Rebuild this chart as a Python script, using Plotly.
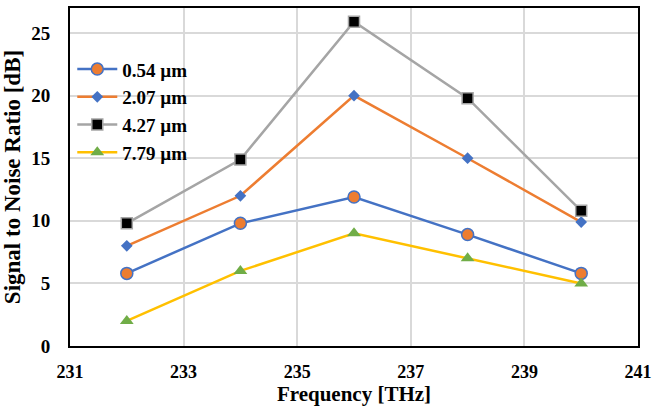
import plotly.graph_objects as go

freq = [232, 234, 236, 238, 240]
snr_054 = [5.8, 9.8, 11.9, 8.9, 5.8]
snr_207 = [8.0, 12.0, 20.0, 15.0, 9.9]
snr_427 = [9.8, 14.9, 25.9, 19.8, 10.8]
snr_779 = [2.0, 6.0, 9.0, 7.0, 5.0]
names = ["0.54 µm", "2.07 µm", "4.27 µm", "7.79 µm"]
x_ticks = [231, 233, 235, 237, 239, 241]
y_ticks = [0, 5, 10, 15, 20, 25]

FONT = "Liberation Serif"

fig = go.Figure()
fig.add_trace(go.Scatter(x=freq, y=snr_054, name=names[0], mode="lines+markers",
                         line=dict(color="#4472C4", width=2.5),
                         marker=dict(symbol="circle", size=12, color="#ED7D31",
                                     line=dict(color="#4472C4", width=1.5))))
fig.add_trace(go.Scatter(x=freq, y=snr_207, name=names[1], mode="lines+markers",
                         line=dict(color="#ED7D31", width=2.5),
                         marker=dict(symbol="diamond", size=9, color="#4472C4")))
fig.add_trace(go.Scatter(x=freq, y=snr_427, name=names[2], mode="lines+markers",
                         line=dict(color="#A5A5A5", width=2.5),
                         marker=dict(symbol="square", size=11, color="#000000",
                                     line=dict(color="#A5A5A5", width=1.5))))
fig.add_trace(go.Scatter(x=freq, y=snr_779, name=names[3], mode="lines+markers",
                         line=dict(color="#FFC000", width=2.5),
                         marker=dict(symbol="triangle-up", size=12, color="#70AD47")))

fig.update_layout(
    width=654, height=416,
    margin=dict(l=70, r=16, t=8, b=70),
    paper_bgcolor="white", plot_bgcolor="white",
    font=dict(family=FONT, color="black"),
    legend=dict(x=0.004, y=0.875, xanchor="left", yanchor="top",
                bgcolor="rgba(0,0,0,0)", font=dict(family=FONT, size=19, color="black",
                                                   weight="bold"),
                tracegroupgap=0, itemwidth=40),
    xaxis=dict(range=[231, 241], tickvals=x_ticks, ticktext=[str(v) for v in x_ticks],
               showgrid=True, gridcolor="#D9D9D9", gridwidth=1.5,
               showline=True, linecolor="black", linewidth=2, mirror=True,
               ticks="", zeroline=False, automargin=False, ticklabelstandoff=8,
               tickfont=dict(family=FONT, size=18, weight="bold"),
               title=dict(text="Frequency [THz]", standoff=0,
                          font=dict(family=FONT, size=21, weight="bold"))),
    yaxis=dict(range=[0, 27], tickvals=y_ticks,
               showgrid=True, gridcolor="#D9D9D9", gridwidth=1.5,
               showline=True, linecolor="black", linewidth=2, mirror=True,
               ticks="", zeroline=False, automargin=False, ticklabelstandoff=14,
               tickfont=dict(family=FONT, size=19, weight="bold"),
               title=dict(text="Signal to Noise Ratio [dB]", standoff=6,
                          font=dict(family=FONT, size=23, weight="bold"))),
)

fig.write_html("out.html")
